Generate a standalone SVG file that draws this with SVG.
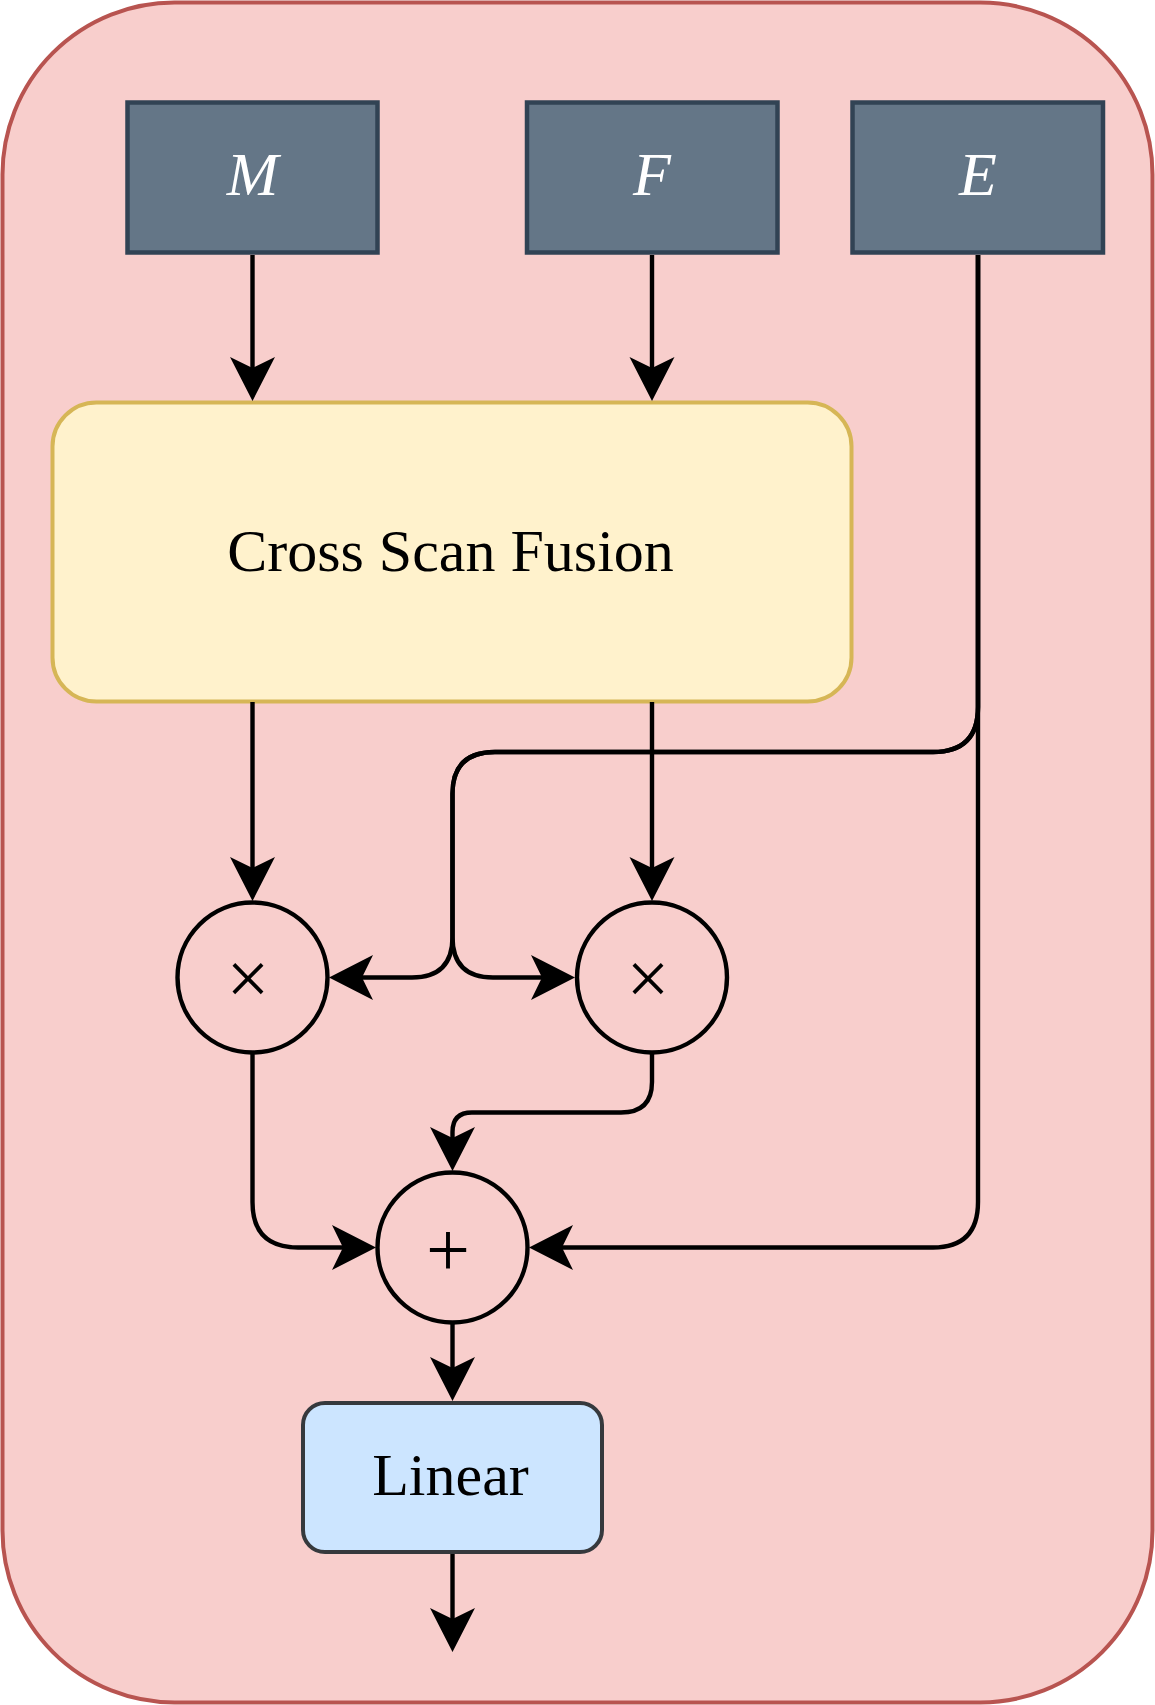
<svg xmlns="http://www.w3.org/2000/svg" width="1155" height="1705" viewBox="0 0 1155 1705">
  <defs>
    <marker id="arrow" markerUnits="userSpaceOnUse" markerWidth="60" markerHeight="60" viewBox="-50 -25 60 50" refX="-8" refY="0" orient="auto" overflow="visible">
      <path d="M0,0 L-44,-22.5 L-33,0 L-44,22.5 Z" fill="#000"/>
    </marker>
  </defs>
  <style>
    .input rect { fill: #647687; stroke: #314354; stroke-width: 4.5; }
    .input text { font-family: "Liberation Serif", "Times New Roman", serif; font-style: italic; font-size: 62px; fill: #ffffff; text-anchor: middle; }
    .op circle { fill: none; stroke: #000; stroke-width: 4.4; }
    .op text { font-family: "Liberation Serif", "Times New Roman", serif; fill: #000; text-anchor: middle; }
    .label { font-family: "Liberation Serif", "Times New Roman", serif; font-size: 60px; fill: #000; text-anchor: middle; }
    .edge { fill: none; stroke: #000; stroke-width: 4.4; marker-end: url(#arrow); }
  </style>

  <g id="container">
    <rect x="2.5" y="2.5" width="1150" height="1700" rx="172" ry="172" fill="#f8cecc" stroke="#b85450" stroke-width="4"/>
  </g>

  <g id="node-M" class="input">
    <rect x="127.5" y="102.5" width="250" height="150"/>
    <text x="252.5" y="195">M</text>
  </g>
  <g id="node-F" class="input">
    <rect x="527" y="102.5" width="250.5" height="150"/>
    <text x="652" y="195">F</text>
  </g>
  <g id="node-E" class="input">
    <rect x="852.5" y="102.5" width="250.5" height="150"/>
    <text x="978" y="195">E</text>
  </g>

  <g id="node-csf">
    <rect x="52.5" y="402.5" width="799" height="299" rx="44" ry="44" fill="#fff2cc" stroke="#d6b656" stroke-width="4"/>
    <text class="label" x="450.5" y="571">Cross Scan Fusion</text>
  </g>

  <g id="node-mul-left" class="op">
    <circle cx="252.5" cy="977.5" r="75"/>
    <text x="248" y="1004" font-size="76">×</text>
  </g>
  <g id="node-mul-right" class="op">
    <circle cx="652" cy="977.5" r="75"/>
    <text x="648" y="1004" font-size="76">×</text>
  </g>
  <g id="node-add" class="op">
    <circle cx="452.5" cy="1247.5" r="75"/>
    <text x="448" y="1276" font-size="78">+</text>
  </g>

  <g id="node-linear">
    <rect x="303" y="1403" width="299" height="149" rx="22" ry="22" fill="#cce5ff" stroke="#36393d" stroke-width="4"/>
    <text class="label" x="450.5" y="1495">Linear</text>
  </g>

  <g id="connectors">
    <path class="edge" d="M252.5,255 V393"/>
    <path class="edge" d="M652,255 V393"/>
    <path class="edge" d="M252.5,702 V893"/>
    <path class="edge" d="M652,702 V893"/>
    <path class="edge" d="M978,255 V707 Q978,752 933,752 H495 Q452.5,752 452.5,794 V937 Q452.5,977.5 412,977.5 H337"/>
    <path class="edge" d="M978,255 V707 Q978,752 933,752 H495 Q452.5,752 452.5,794 V937 Q452.5,977.5 493,977.5 H567"/>
    <path class="edge" d="M978,255 V1202 Q978,1247.5 933,1247.5 H537"/>
    <path class="edge" d="M252.5,1053 V1202 Q252.5,1247.5 298,1247.5 H368"/>
    <path class="edge" d="M652,1053 V1082 Q652,1112.5 621,1112.5 H472 Q452.5,1112.5 452.5,1132 V1163"/>
    <path class="edge" d="M452.5,1323 V1393"/>
    <path class="edge" d="M452.5,1554 V1644"/>
  </g>
</svg>
